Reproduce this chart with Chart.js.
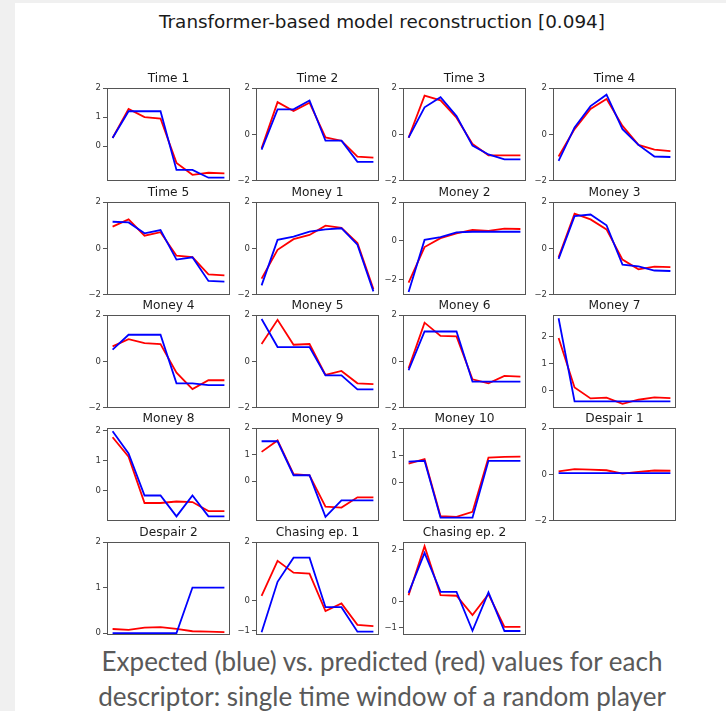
<!DOCTYPE html>
<html><head><meta charset="utf-8">
<script src="https://cdn.jsdelivr.net/npm/chart.js@4"></script>
<style>
html,body{margin:0;padding:0;width:726px;height:711px;background:#fff;overflow:hidden}
#wrap{position:relative;width:726px;height:711px;background:#fff}
#lstrip{position:absolute;left:0;top:0;width:15px;height:711px;background:#f0f0f0}
#tstrip{position:absolute;left:0;top:0;width:726px;height:3px;background:#f0f0f0}
#title{position:absolute;left:82px;width:600px;top:9px;text-align:center;font-family:'DejaVu Sans';font-size:18.4px;line-height:26px;color:#1a1a1a}
#caption{position:absolute;left:32px;width:700px;top:644px;text-align:center;font-family:Lato,'Open Sans';font-size:26px;line-height:35px;color:#595959}
canvas{position:absolute}
</style></head>
<body><div id="wrap">
<div id="lstrip"></div><div id="tstrip"></div>
<div id="title">Transformer-based model reconstruction [0.094]</div>
<div id="caption">Expected (blue) vs. predicted (red) values for each<br>descriptor: single time window of a random player</div>
</div>
<script>
// ---- data ----
const steps = [0, 1, 2, 3, 4, 5, 6, 7];
const descriptors = ['Time 1','Time 2','Time 3','Time 4','Time 5','Money 1','Money 2','Money 3','Money 4','Money 5','Money 6','Money 7','Money 8','Money 9','Money 10','Despair 1','Despair 2','Chasing ep. 1','Chasing ep. 2'];

const time1Expected  = [0.28, 1.2, 1.2, 1.2, -0.82, -0.82, -1.09, -1.09];
const time1Predicted = [0.28, 1.28, 1.0, 0.95, -0.58, -0.99, -0.92, -0.94];
const time2Expected  = [-0.65, 1.08, 1.08, 1.46, -0.27, -0.27, -1.18, -1.18];
const time2Predicted = [-0.6, 1.39, 1.01, 1.37, -0.13, -0.27, -0.96, -1.0];
const time3Expected  = [-0.14, 1.17, 1.6, 0.79, -0.48, -0.86, -1.07, -1.07];
const time3Predicted = [-0.14, 1.67, 1.47, 0.72, -0.41, -0.9, -0.9, -0.9];
const time4Expected  = [-1.14, 0.3, 1.22, 1.71, 0.23, -0.45, -0.95, -0.97];
const time4Predicted = [-0.95, 0.23, 1.1, 1.53, 0.37, -0.45, -0.65, -0.72];
const time5Expected  = [1.15, 1.12, 0.65, 0.79, -0.48, -0.38, -1.4, -1.43];
const time5Predicted = [0.94, 1.25, 0.55, 0.7, -0.31, -0.37, -1.12, -1.16];
const money1Expected  = [-1.59, 0.37, 0.51, 0.72, 0.82, 0.87, 0.16, -1.85];
const money1Predicted = [-1.3, -0.06, 0.4, 0.58, 0.98, 0.89, 0.23, -1.75];
const money2Expected  = [-2.63, 0.05, 0.19, 0.44, 0.47, 0.47, 0.47, 0.47];
const money2Predicted = [-2.15, -0.32, 0.14, 0.39, 0.56, 0.51, 0.63, 0.61];
const money3Expected  = [-0.45, 1.39, 1.46, 1.0, -0.7, -0.77, -0.95, -0.97];
const money3Predicted = [-0.38, 1.5, 1.25, 0.82, -0.48, -0.9, -0.78, -0.8];
const money4Expected  = [0.51, 1.15, 1.15, 1.15, -0.94, -0.94, -1.02, -1.02];
const money4Predicted = [0.65, 0.96, 0.79, 0.75, -0.48, -1.19, -0.81, -0.81];
const money5Expected  = [1.83, 0.62, 0.62, 0.62, -0.6, -0.6, -1.2, -1.2];
const money5Predicted = [0.75, 1.79, 0.72, 0.75, -0.58, -0.41, -0.94, -0.98];
const money6Expected  = [-0.38, 1.29, 1.29, 1.29, -0.87, -0.87, -0.87, -0.87];
const money6Predicted = [-0.3, 1.67, 1.1, 1.08, -0.77, -0.94, -0.62, -0.65];
const money7Expected  = [2.67, -0.39, -0.39, -0.39, -0.39, -0.39, -0.39, -0.39];
const money7Predicted = [1.94, 0.12, -0.28, -0.25, -0.48, -0.33, -0.24, -0.27];
const money8Expected  = [1.98, 1.24, -0.17, -0.17, -0.87, -0.17, -0.87, -0.87];
const money8Predicted = [1.78, 1.13, -0.42, -0.42, -0.37, -0.39, -0.69, -0.69];
const money9Expected  = [1.5, 1.5, 0.22, 0.22, -1.35, -0.73, -0.73, -0.73];
const money9Predicted = [1.1, 1.53, 0.26, 0.22, -0.96, -1.0, -0.61, -0.61];
const money10Expected  = [0.77, 0.8, -1.28, -1.28, -1.28, 0.8, 0.8, 0.8];
const money10Predicted = [0.7, 0.86, -1.23, -1.25, -1.07, 0.92, 0.94, 0.95];
const despair1Expected  = [0.06, 0.06, 0.06, 0.06, 0.06, 0.06, 0.06, 0.06];
const despair1Predicted = [0.13, 0.23, 0.21, 0.18, 0.04, 0.11, 0.17, 0.16];
const despair2Expected  = [0, 0, 0, 0, 0, 1, 1, 1];
const despair2Predicted = [0.09, 0.07, 0.12, 0.13, 0.09, 0.04, 0.03, 0.02];
const chasing1Expected  = [-1.06, 0.65, 1.47, 1.47, -0.21, -0.21, -1.04, -1.04];
const chasing1Predicted = [0.17, 1.36, 0.96, 0.93, -0.34, -0.08, -0.81, -0.85];
const chasing2Expected  = [0.34, 1.87, 0.38, 0.38, -1.11, 0.36, -1.12, -1.12];
const chasing2Predicted = [0.25, 2.13, 0.25, 0.23, -0.51, 0.29, -0.96, -0.96];

const expectedSeries = [time1Expected, time2Expected, time3Expected, time4Expected, time5Expected, money1Expected, money2Expected, money3Expected, money4Expected, money5Expected, money6Expected, money7Expected, money8Expected, money9Expected, money10Expected, despair1Expected, despair2Expected, chasing1Expected, chasing2Expected];
const predictedSeries = [time1Predicted, time2Predicted, time3Predicted, time4Predicted, time5Predicted, money1Predicted, money2Predicted, money3Predicted, money4Predicted, money5Predicted, money6Predicted, money7Predicted, money8Predicted, money9Predicted, money10Predicted, despair1Predicted, despair2Predicted, chasing1Predicted, chasing2Predicted];

// y-axis limits and tick labels per subplot
const yMin = [-1.2, -2, -2, -2, -2, -2, -2.78, -2, -2, -2, -2, -0.63, -1.02, -1.5, -1.4, -2, -0.04, -1.15, -1.27];
const yMax = [2, 2, 2, 2, 2, 2, 2, 2, 2, 2, 2, 2.79, 2.09, 2, 2, 2, 2, 2, 2.29];
const yTicks = [[0,1,2],[-2,0,2],[-2,0,2],[-2,0,2],[-2,0,2],[-2,0,2],[-2,0,2],[-2,0,2],[-2,0,2],[-2,0,2],[-2,0,2],[0,1,2],[0,1,2],[0,1,2],[0,1,2],[-2,0,2],[0,1,2],[-1,0,2],[-1,0,2]];

// ---- layout ----
const colLeft = [107, 256, 403, 553];
const rowTop = [88, 202, 315, 428, 542];
const BOX_W = 123, BOX_H = 94, AX_W = 30, TOP_H = 20, BOT_PAD = 6, RIGHT_PAD = 4;

const boxPlugin = {
  id: 'frame',
  afterDraw(chart) {
    const a = chart.chartArea, c = chart.ctx;
    c.save();
    c.strokeStyle = '#555';
    c.lineWidth = 1;
    c.strokeRect(Math.round(a.left) + 0.5, Math.round(a.top) + 0.5, Math.round(a.right - a.left) - 1, Math.round(a.bottom - a.top) - 1);
    c.restore();
  }
};

const fmt = v => v < 0 ? '\u2212' + Math.abs(v) : String(v);
const wrap = document.getElementById('wrap');

descriptors.forEach((name, i) => {
  const row = Math.floor(i / 4), col = i % 4;
  const cv = document.createElement('canvas');
  const W = AX_W + BOX_W + RIGHT_PAD, H = TOP_H + BOX_H + BOT_PAD;
  cv.width = W; cv.height = H;
  cv.style.left = (colLeft[col] - AX_W) + 'px';
  cv.style.top = (rowTop[row] - TOP_H) + 'px';
  cv.style.width = W + 'px'; cv.style.height = H + 'px';
  wrap.appendChild(cv);
  const ticks = yTicks[i];
  new Chart(cv, {
    type: 'line',
    data: {
      labels: steps,
      datasets: [
        { label: 'Expected', data: expectedSeries[i], borderColor: '#0000ff', borderWidth: 1.8, pointRadius: 0, tension: 0, fill: false },
        { label: 'Predicted', data: predictedSeries[i], borderColor: '#ff0000', borderWidth: 1.8, pointRadius: 0, tension: 0, fill: false }
      ]
    },
    options: {
      responsive: false,
      animation: false,
      devicePixelRatio: 1,
      layout: { padding: { left: 0, right: RIGHT_PAD, top: 0, bottom: BOT_PAD } },
      plugins: {
        legend: { display: false },
        tooltip: { enabled: false },
        title: { display: true, fullSize: false, text: name, color: '#1a1a1a', font: { family: 'DejaVu Sans', size: 12.2, lineHeight: '14px', weight: 'normal' }, padding: { top: 4, bottom: 2 } }
      },
      scales: {
        x: { type: 'linear', min: -0.35, max: 7.35, display: false },
        y: {
          type: 'linear', min: yMin[i], max: yMax[i],
          afterBuildTicks: s => { s.ticks = ticks.map(v => ({ value: v })); },
          afterFit: s => { s.width = AX_W; },
          ticks: { callback: v => fmt(v), color: '#333', font: { family: 'DejaVu Sans', size: 8.5 }, padding: 2, autoSkip: false },
          grid: { drawOnChartArea: false, drawTicks: true, tickLength: 4, color: '#555', lineWidth: 1 },
          border: { display: false }
        }
      }
    },
    plugins: [boxPlugin]
  });
});
</script>
</body></html>
